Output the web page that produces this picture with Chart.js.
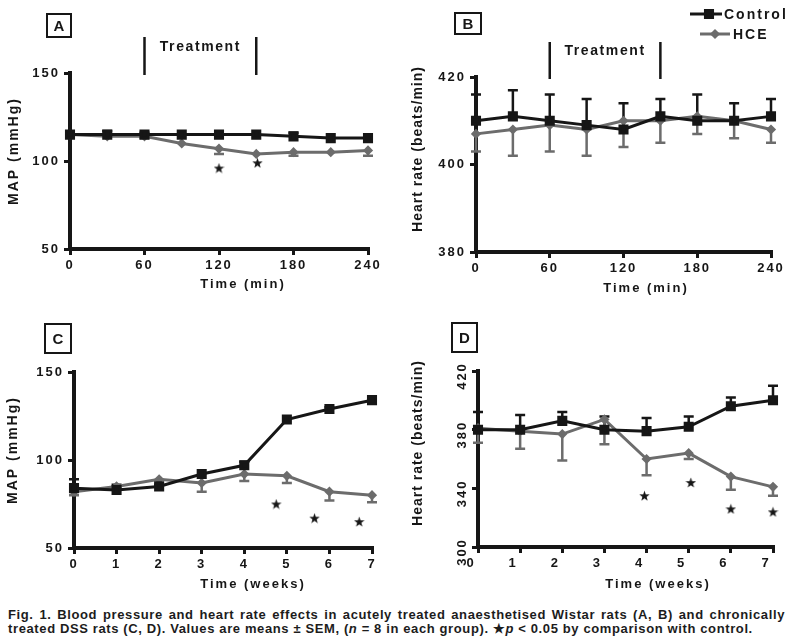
<!DOCTYPE html>
<html>
<head>
<meta charset="utf-8">
<script src="https://cdn.jsdelivr.net/npm/chart.js@4.4.1/dist/chart.umd.min.js"></script>
<style>
  body { margin: 0; background: #fff; width: 791px; height: 643px; position: relative; overflow: hidden; font-family: "Liberation Sans", Arial, sans-serif; }
  canvas { position: absolute; }
  #caption { position: absolute; left: 8px; top: 608px; width: 777px; font-weight: bold; font-size: 13px; line-height: 13.5px; letter-spacing: 0.62px; color: #1c1c1c; }
  #caption .l1 { text-align: justify; text-align-last: justify; white-space: nowrap; }
</style>
</head>
<body>
<canvas id="chartA" width="395" height="300" style="left:0;top:0"></canvas>
<canvas id="chartB" width="396" height="300" style="left:395px;top:0"></canvas>
<canvas id="chartC" width="395" height="300" style="left:0;top:300px"></canvas>
<canvas id="chartD" width="396" height="300" style="left:395px;top:300px"></canvas>
<div id="caption">
  <div class="l1">Fig. 1. Blood pressure and heart rate effects in acutely treated anaesthetised Wistar rats (A, B) and chronically</div>
  <div>treated DSS rats (C, D). Values are means ± SEM, (<i>n</i> = 8 in each group). ★<i>p</i> &lt; 0.05 by comparison with control.</div>
</div>
<script>
// ---- data ----
const seriesNames = ['Control', 'HCE'];
const timeMin = [0, 30, 60, 90, 120, 150, 180, 210, 240];
const timeWeeks = [0, 1, 2, 3, 4, 5, 6, 7];
const minTicks = [0, 60, 120, 180, 240];
const mapTicks = [50, 100, 150];
const hrAcuteTicks = [380, 400, 420];
const hrChronicTicks = [300, 340, 380, 420];
const treatmentStart = 60;
const treatmentEnd = 150;

// A: MAP, acute
const mapAcuteControl = [115, 115, 115, 115, 115, 115, 114, 113, 113];
const mapAcuteControlHi = [115, 117, 116, 115, 115, 115, 116, 113, 113];
const mapAcuteHce = [115, 114, 114, 110, 107, 104, 105, 105, 106];
const mapAcuteHceLo = [115, 114, 113, 110, 104, 104, 103, 105, 103];
const mapAcuteStarX = [120, 151];
const mapAcuteStarY = [96, 99];

// B: heart rate, acute
const hrAcuteControl = [410, 411, 410, 409, 408, 411, 410, 410, 411];
const hrAcuteControlHi = [416, 417, 416, 415, 414, 415, 416, 414, 415];
const hrAcuteHce = [407, 408, 409, 408, 410, 410, 411, 410, 408];
const hrAcuteHceLo = [403, 402, 403, 402, 404, 405, 407, 406, 405];

// C: MAP, chronic
const mapChronicControl = [84, 83, 85, 92, 97, 123, 129, 134];
const mapChronicControlHi = [89, 86, 86, 92, 99, 123, 130, 134];
const mapChronicHce = [82, 85, 89, 87, 92, 91, 82, 80];
const mapChronicHceLo = [80, 84, 89, 82, 88, 87, 77, 76];
const mapChronicStarX = [4.75, 5.65, 6.7];
const mapChronicStarY = [75, 67, 65];

// D: heart rate, chronic
const hrChronicControl = [380, 380, 386, 380, 379, 382, 396, 400];
const hrChronicControlHi = [392, 390, 392, 389, 388, 389, 402, 410];
const hrChronicHce = [381, 379, 377, 387, 360, 364, 348, 341];
const hrChronicHceLo = [371, 367, 359, 370, 349, 360, 339, 335];
const hrChronicStarX = [3.95, 5.05, 6, 7];
const hrChronicStarY = [335, 344, 326, 324];

// ---- styles ----
const ink = '#161616';
const grey = '#6c6c6c';
const family = '"Liberation Sans", Arial, sans-serif';
Chart.defaults.font.family = family;

// estrella rellena de cinco puntas para los marcadores de significancia
function makeStar(size) {
    const c = document.createElement('canvas');
    c.width = c.height = size;
    const g = c.getContext('2d');
    g.fillStyle = ink;
    g.beginPath();
    for (let i = 0; i < 10; i++) {
        const r = i % 2 ? size * 0.2 : size * 0.5;
        const a = -Math.PI / 2 + i * Math.PI / 5;
        g.lineTo(size / 2 + r * Math.cos(a), size / 2 + 0.5 + r * Math.sin(a));
    }
    g.closePath();
    g.fill();
    return c;
}
const starImg = makeStar(11);

function points(xs, ys) {
    return xs.map((x, i) => ({ x: x, y: ys[i] }));
}

function controlSeries(xs, ys, hi) {
    return {
        label: seriesNames[0], data: points(xs, ys), errEnds: hi,
        borderColor: ink, backgroundColor: ink, borderWidth: 3,
        pointStyle: 'rect', pointRadius: 5, tension: 0, clip: false, order: 1
    };
}
function hceSeries(xs, ys, lo) {
    return {
        label: seriesNames[1], data: points(xs, ys), errEnds: lo,
        borderColor: grey, backgroundColor: grey, borderWidth: 3,
        pointStyle: 'rectRot', pointRadius: 3, tension: 0, clip: false, order: 2
    };
}
function starSeries(xs, ys) {
    return {
        label: 'p<0.05', data: points(xs, ys), showLine: false,
        pointStyle: starImg, pointRadius: 5, clip: false, order: 0
    };
}

// barras de error (solo el lado que se ve en la figura)
const errorBars = {
    id: 'errorBars',
    beforeDatasetsDraw(chart) {
        const ctx = chart.ctx, xs = chart.scales.x, ys = chart.scales.y;
        chart.data.datasets.forEach(ds => {
            if (!ds.errEnds) return;
            ctx.save();
            ctx.strokeStyle = ds.borderColor;
            ctx.lineWidth = 2.5;
            ds.data.forEach((p, i) => {
                const end = ds.errEnds[i];
                if (end === p.y) return;
                const x = xs.getPixelForValue(p.x);
                const y0 = ys.getPixelForValue(p.y);
                const y1 = ys.getPixelForValue(end);
                ctx.beginPath();
                ctx.moveTo(x, y0); ctx.lineTo(x, y1);
                ctx.moveTo(x - 5, y1); ctx.lineTo(x + 5, y1);
                ctx.stroke();
            });
            ctx.restore();
        });
    }
};

// textos y adornos: letra del panel, títulos, "Treatment", leyenda
const decor = {
    id: 'decor',
    beforeDraw(chart) {
        chart.ctx.letterSpacing = '2px';
    },
    afterDraw(chart, args, o) {
        const ctx = chart.ctx, xs = chart.scales.x, ys = chart.scales.y;
        ctx.save();
        ctx.fillStyle = ink;
        ctx.strokeStyle = ink;
        ctx.textAlign = 'center';
        ctx.textBaseline = 'middle';

        // caja con la letra
        ctx.lineWidth = 2;
        ctx.strokeRect(o.box[0], o.box[1], o.box[2], o.box[3]);
        ctx.letterSpacing = '0px';
        ctx.font = 'bold 15px ' + family;
        ctx.fillText(o.letter, o.box[0] + o.box[2] / 2, o.box[1] + o.box[3] / 2 + 1);

        // título eje x
        ctx.letterSpacing = '2px';
        ctx.font = 'bold 13px ' + family;
        ctx.fillText(o.xTitle, o.xTitlePos[0], o.xTitlePos[1]);

        // título eje y
        ctx.save();
        ctx.translate(o.yTitlePos[0], o.yTitlePos[1]);
        ctx.rotate(-Math.PI / 2);
        ctx.letterSpacing = o.yTitleSpacing;
        ctx.font = 'bold 14px ' + family;
        ctx.fillText(o.yTitle, 0, 0);
        ctx.restore();

        // etiquetas del eje y giradas (panel D)
        if (o.rotatedYLabels) {
            ctx.font = 'bold 13px ' + family;
            ctx.letterSpacing = '2px';
            ys.ticks.forEach(t => {
                ctx.save();
                ctx.translate(o.rotatedYLabels, ys.getPixelForValue(t.value) + 5);
                ctx.rotate(-Math.PI / 2);
                ctx.fillText(String(t.value), 0, 0);
                ctx.restore();
            });
        }

        // periodo de tratamiento
        if (o.treatment) {
            const x1 = xs.getPixelForValue(treatmentStart);
            const x2 = xs.getPixelForValue(treatmentEnd);
            ctx.lineWidth = 2.5;
            ctx.beginPath();
            ctx.moveTo(x1, o.treatment.top); ctx.lineTo(x1, o.treatment.bottom);
            ctx.moveTo(x2, o.treatment.top); ctx.lineTo(x2, o.treatment.bottom);
            ctx.stroke();
            ctx.letterSpacing = '1.6px';
            ctx.font = 'bold 14px ' + family;
            ctx.fillText('Treatment', (x1 + x2) / 2, o.treatment.text);
        }

        // leyenda
        if (o.legend) {
            const sets = chart.data.datasets;
            o.legend.forEach((item, i) => {
                const ds = sets[i];
                ctx.strokeStyle = ds.borderColor;
                ctx.fillStyle = ds.borderColor;
                ctx.lineWidth = 3;
                ctx.beginPath();
                ctx.moveTo(item.x0, item.y); ctx.lineTo(item.x1, item.y);
                ctx.stroke();
                Chart.helpers.drawPoint(ctx, { pointStyle: ds.pointStyle, radius: ds.pointRadius, borderWidth: 1, rotation: 0 }, item.mx, item.y);
                ctx.fillStyle = ink;
                ctx.textAlign = 'left';
                ctx.letterSpacing = '2px';
                ctx.font = 'bold 14px ' + family;
                ctx.fillText(ds.label, item.tx, item.y + 1);
            });
        }
        ctx.restore();
    }
};

function axis(ticksArr, size, horizontal, extra) {
    return Object.assign({
        type: 'linear',
        min: ticksArr[0],
        max: ticksArr[ticksArr.length - 1],
        afterBuildTicks: s => { s.ticks = ticksArr.map(v => ({ value: v })); },
        afterFit: s => { if (horizontal) s.height = size; else s.width = size; },
        ticks: { color: ink, font: { size: 13, weight: 'bold' }, padding: horizontal ? 3 : 4, maxRotation: 0, minRotation: 0 },
        grid: { drawOnChartArea: false, drawTicks: true, tickLength: 6, lineWidth: 3, color: ink },
        border: { display: true, width: 4, color: ink }
    }, extra || {});
}

function buildPanel(id, cfg) {
    const xAxis = axis(cfg.xTicks, cfg.xHeight, true);
    const yAxis = axis(cfg.yTicks, cfg.yWidth, false);
    if (cfg.xLabelOffset) xAxis.ticks.labelOffset = cfg.xLabelOffset;
    if (cfg.decor.rotatedYLabels) yAxis.ticks.color = 'rgba(0,0,0,0)';
    return new Chart(document.getElementById(id), {
        type: 'line',
        data: { datasets: cfg.datasets },
        options: {
            responsive: false,
            animation: false,
            events: [],
            layout: { padding: cfg.padding },
            plugins: { legend: { display: false }, tooltip: { enabled: false }, decor: cfg.decor },
            scales: { x: xAxis, y: yAxis }
        },
        plugins: [errorBars, decor]
    });
}

document.addEventListener('DOMContentLoaded', function() {
    buildPanel('chartA', {
        datasets: [
            controlSeries(timeMin, mapAcuteControl, mapAcuteControlHi),
            hceSeries(timeMin, mapAcuteHce, mapAcuteHceLo),
            starSeries(mapAcuteStarX, mapAcuteStarY)
        ],
        xTicks: minTicks, yTicks: mapTicks, xHeight: 46, yWidth: 70,
        padding: { left: 0, top: 73, right: 27, bottom: 5 },
        decor: {
            letter: 'A', box: [47, 14, 24, 23],
            xTitle: 'Time (min)', xTitlePos: [243, 284],
            yTitle: 'MAP (mmHg)', yTitlePos: [14, 151], yTitleSpacing: '2px',
            treatment: { top: 37, bottom: 75, text: 47 }
        }
    });

    buildPanel('chartB', {
        datasets: [
            controlSeries(timeMin, hrAcuteControl, hrAcuteControlHi),
            hceSeries(timeMin, hrAcuteHce, hrAcuteHceLo)
        ],
        xTicks: minTicks, yTicks: hrAcuteTicks, xHeight: 46, yWidth: 81,
        padding: { left: 0, top: 77, right: 20, bottom: 2 },
        decor: {
            letter: 'B', box: [60, 13, 26, 21],
            xTitle: 'Time (min)', xTitlePos: [251, 288],
            yTitle: 'Heart rate (beats/min)', yTitlePos: [23, 149], yTitleSpacing: '1px',
            treatment: { top: 42, bottom: 79, text: 51 },
            legend: [
                { x0: 295, x1: 327, mx: 314, tx: 329, y: 14 },
                { x0: 305, x1: 335, mx: 320, tx: 338, y: 34 }
            ]
        }
    });

    buildPanel('chartC', {
        datasets: [
            controlSeries(timeWeeks, mapChronicControl, mapChronicControlHi),
            hceSeries(timeWeeks, mapChronicHce, mapChronicHceLo),
            starSeries(mapChronicStarX, mapChronicStarY)
        ],
        xTicks: timeWeeks, yTicks: mapTicks, xHeight: 46, yWidth: 74,
        padding: { left: 0, top: 72, right: 23, bottom: 6 },
        decor: {
            letter: 'C', box: [45, 24, 26, 29],
            xTitle: 'Time (weeks)', xTitlePos: [253, 284],
            yTitle: 'MAP (mmHg)', yTitlePos: [13, 150], yTitleSpacing: '2px'
        }
    });

    buildPanel('chartD', {
        datasets: [
            controlSeries(timeWeeks, hrChronicControl, hrChronicControlHi),
            hceSeries(timeWeeks, hrChronicHce, hrChronicHceLo),
            starSeries(hrChronicStarX, hrChronicStarY)
        ],
        xTicks: timeWeeks, yTicks: hrChronicTicks, xHeight: 46, yWidth: 83,
        xLabelOffset: -7,
        padding: { left: 0, top: 71, right: 18, bottom: 7 },
        decor: {
            letter: 'D', box: [57, 23, 25, 29],
            xTitle: 'Time (weeks)', xTitlePos: [263, 284],
            yTitle: 'Heart rate (beats/min)', yTitlePos: [23, 143], yTitleSpacing: '1px',
            rotatedYLabels: 67
        }
    });
});
</script>
</body>
</html>
